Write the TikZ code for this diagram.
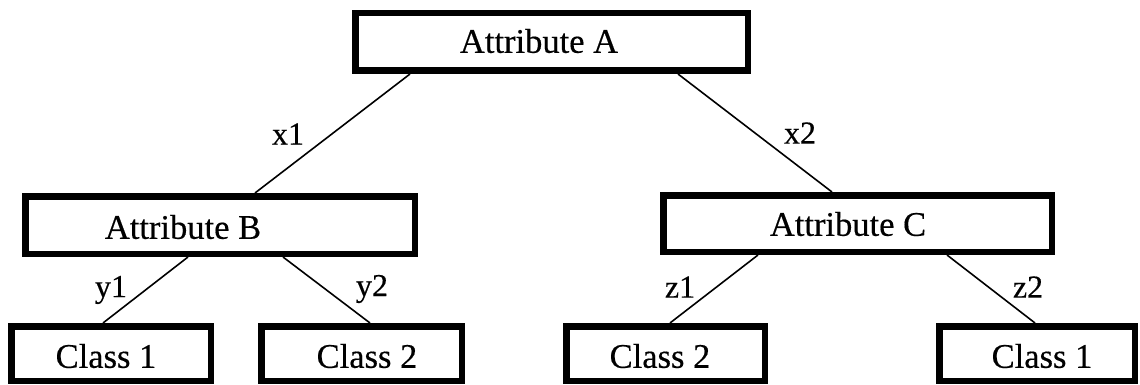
\documentclass[tikz,border=0pt]{standalone}
\usepackage{fontspec}
\setmainfont{Liberation Serif}[UprightFeatures={FakeBold=0.4}]
\begin{document}
\begin{tikzpicture}[x=1pt,y=-1pt,
  box/.style={draw=black, line width=6.5pt, rectangle, inner sep=0pt, fill=white},
  boxtext/.style={inner sep=0pt, font=\fontsize{34.5}{40}\selectfont},
  edgelabel/.style={inner sep=0pt, font=\fontsize{32}{38}\selectfont},
  branch/.style={draw=black, line width=1.6pt}]
\useasboundingbox (0,0) rectangle (1140,385);

% tree nodes
\node[box, minimum width=392.5pt, minimum height=57.5pt] (A) at (551.5,42) {};
\node[box, minimum width=389.5pt, minimum height=57.5pt] (B) at (220,225) {};
\node[box, minimum width=388.5pt, minimum height=56.5pt] (C) at (857.5,223.5) {};
\node[box, minimum width=199.5pt, minimum height=54.5pt] (L1) at (111,353.5) {};
\node[box, minimum width=200.5pt, minimum height=54.5pt] (L2) at (361.5,353.5) {};
\node[box, minimum width=198.5pt, minimum height=54.5pt] (L3) at (665.5,353.5) {};
\node[box, minimum width=195.5pt, minimum height=54.5pt] (L4) at (1037,353.5) {};

% node captions
\node[boxtext] (tA) at (539,41) {Attribute A};
\node[boxtext] (tB) at (183,227) {Attribute B};
\node[boxtext] (tC) at (848,224) {Attribute C};
\node[boxtext] (t1) at (106,356) {Class 1};
\node[boxtext] (t2) at (367,356) {Class 2};
\node[boxtext] (t3) at (660,356) {Class 2};
\node[boxtext] (t4) at (1042,356) {Class 1};

% branches
\draw[branch] ([xshift=-141.5pt]A.south) -- ([xshift=35pt]B.north);
\draw[branch] ([xshift=126.5pt]A.south) -- ([xshift=-25.5pt]C.north);
\draw[branch] ([xshift=-32pt]B.south) -- ([xshift=-8pt]L1.north);
\draw[branch] ([xshift=63pt]B.south) -- ([xshift=8.5pt]L2.north);
\draw[branch] ([xshift=-99.5pt]C.south) -- ([xshift=4.5pt]L3.north);
\draw[branch] ([xshift=89.5pt]C.south) -- ([xshift=-2pt]L4.north);

% branch labels
\node[edgelabel] (lx1) at (288,134) {x1};
\node[edgelabel] (lx2) at (800,133) {x2};
\node[edgelabel] (ly1) at (111,290) {y1};
\node[edgelabel] (ly2) at (372,289) {y2};
\node[edgelabel] (lz1) at (680,287) {z1};
\node[edgelabel] (lz2) at (1028,287) {z2};
\end{tikzpicture}
\end{document}
